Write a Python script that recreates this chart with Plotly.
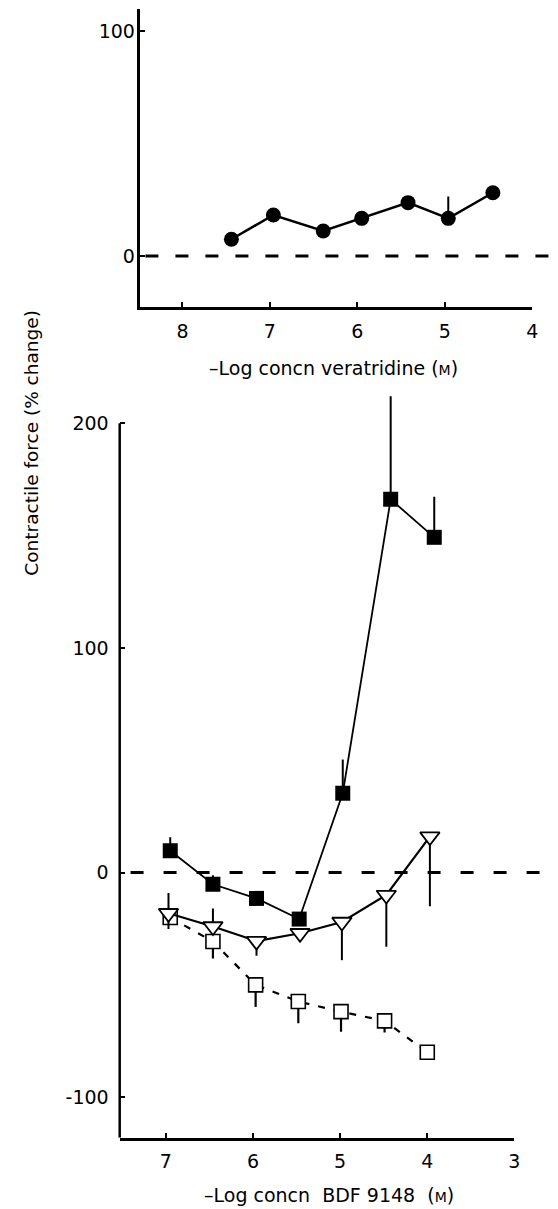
import plotly.graph_objects as go

# ---------------- data ----------------
# top panel: veratridine
ver_x = [7.44, 6.96, 6.39, 5.95, 5.42, 4.96, 4.45]
ver_y = [7.4, 18.2, 11.1, 16.7, 23.7, 16.7, 28.1]
ver_err_up = [0, 0, 0, 0, 0, 9.7, 0]

# bottom panel: BDF 9148
fsq_x = [6.95, 6.46, 5.96, 5.47, 4.97, 4.42, 3.92]
fsq_y = [9.7, -5.2, -11.5, -20.7, 35.3, 166.1, 149.2]
fsq_err_up = [6, 4, 0, 0, 15, 46, 18]

tri_x = [6.97, 6.46, 5.96, 5.46, 4.98, 4.47, 3.97]
tri_y = [-18.1, -24, -30.5, -27, -22, -10, 16]
tri_err_up = [9, 8, 0, 0, 0, 0, 0]
tri_err_dn = [7, 0, 6.5, 0, 17, 23, 31]

osq_x = [6.95, 6.46, 5.97, 5.48, 4.99, 4.49, 4.0]
osq_y = [-20, -30.7, -50.0, -57.4, -61.9, -66.0, -80.0]
osq_err_dn = [0, 7.5, 9.8, 9.7, 8.9, 5.2, 0]

top_xticks = [8, 7, 6, 5, 4]
top_yticks = [0, 100]
bot_xticks = [7, 6, 5, 4, 3]
bot_yticks = [-100, 0, 100, 200]

TFONT = "DejaVu Sans, Liberation Sans, sans-serif"
FONT = "DejaVu Sans, Liberation Sans, sans-serif"
W, H = 558, 1209

fig = go.Figure()

fig.add_trace(go.Scatter(
    x=ver_x, y=ver_y, mode="lines+markers", xaxis="x", yaxis="y",
    line=dict(color="black", width=2.5),
    marker=dict(symbol="circle", size=15, color="black"),
    error_y=dict(type="data", symmetric=False, array=ver_err_up,
                 arrayminus=[0] * len(ver_y), width=0, thickness=2, color="black"),
    showlegend=False))

fig.add_trace(go.Scatter(
    x=osq_x, y=osq_y, mode="lines+markers", xaxis="x2", yaxis="y2",
    line=dict(color="black", width=2.2, dash="7px,9px"),
    marker=dict(symbol="square", size=14, color="white",
                line=dict(color="black", width=1.6)),
    error_y=dict(type="data", symmetric=False, array=[0] * len(osq_y),
                 arrayminus=osq_err_dn, width=0, thickness=2.2, color="black"),
    showlegend=False))

fig.add_trace(go.Scatter(
    x=tri_x, y=tri_y, mode="lines+markers", xaxis="x2", yaxis="y2",
    line=dict(color="black", width=2.2),
    marker=dict(symbol="triangle-down", size=17, color="white",
                line=dict(color="black", width=1.8)),
    error_y=dict(type="data", symmetric=False, array=tri_err_up,
                 arrayminus=tri_err_dn, width=0, thickness=2, color="black"),
    showlegend=False))

fig.add_trace(go.Scatter(
    x=fsq_x, y=fsq_y, mode="lines+markers", xaxis="x2", yaxis="y2",
    line=dict(color="black", width=1.8),
    marker=dict(symbol="square", size=15, color="black"),
    error_y=dict(type="data", symmetric=False, array=fsq_err_up,
                 arrayminus=[0] * len(fsq_y), width=0, thickness=2, color="black"),
    showlegend=False))

axis_common = dict(showgrid=False, zeroline=False, ticks="inside", ticklen=5,
                   tickwidth=2, tickcolor="black", linecolor="black", linewidth=2.5,
                   tickfont=dict(family=TFONT, size=19, color="black"))

fig.update_layout(
    width=W, height=H, margin=dict(l=0, r=0, t=0, b=0),
    paper_bgcolor="white", plot_bgcolor="white",
    xaxis=dict(domain=[142 / W, 538 / W], range=[8.48, 4.0], anchor="y",
               tickvals=top_xticks, ticktext=[str(v) for v in top_xticks],
               showline=True, ticklabelstandoff=5, **axis_common),
    yaxis=dict(domain=[1 - 307 / H, 1 - 8.5 / H], range=[-22.7, 110], anchor="x",
               tickvals=top_yticks, ticktext=[str(v) for v in top_yticks],
               showline=True, ticklabelstandoff=-1, **axis_common),
    xaxis2=dict(domain=[121 / W, 520 / W], range=[7.53, 3.0], anchor="y2",
                tickvals=bot_xticks, ticktext=[str(v) for v in bot_xticks],
                showline=True, ticklabelstandoff=5, **axis_common),
    yaxis2=dict(domain=[1 - 1137.7 / H, 1 - 396.2 / H], range=[-118, 212], anchor="x2",
                tickvals=bot_yticks, ticktext=[str(v) for v in bot_yticks],
                showline=False, ticklabelstandoff=10, **axis_common),
)

# y axis line for bottom panel (stops at 200, error bar goes beyond)
fig.add_shape(type="line", xref="x2 domain", yref="y2", x0=0, x1=0, y0=-118, y1=200,
              line=dict(color="black", width=2.5))

# dashed zero lines (extend beyond axes)
fig.add_shape(type="line", xref="paper", yref="y", x0=147 / W, x1=1.0, y0=0, y1=0,
              line=dict(color="black", width=3, dash="13px,17px"))
fig.add_shape(type="line", xref="paper", yref="y2", x0=132 / W, x1=555 / W, y0=0, y1=0,
              line=dict(color="black", width=3, dash="13px,20px"))

fig.add_annotation(x=337 / W, y=1 - 368 / H, xref="paper", yref="paper",
                   xanchor="center", yanchor="middle",
                   text="–Log concn veratridine (<span style='font-size:14px'>M</span>)",
                   showarrow=False, font=dict(family=FONT, size=19, color="black"))
fig.add_annotation(x=333 / W, y=1 - 1195 / H, xref="paper", yref="paper",
                   xanchor="center", yanchor="middle",
                   text="–Log concn  BDF 9148  (<span style='font-size:14px'>M</span>)",
                   showarrow=False, font=dict(family=FONT, size=19, color="black"))
fig.add_annotation(x=31 / W, y=1 - 443 / H, xref="paper", yref="paper",
                   xanchor="center", yanchor="middle",
                   text="Contractile force (% change)", textangle=-90,
                   showarrow=False, font=dict(family=FONT, size=18.5, color="black"))

fig.write_html("out.html")
